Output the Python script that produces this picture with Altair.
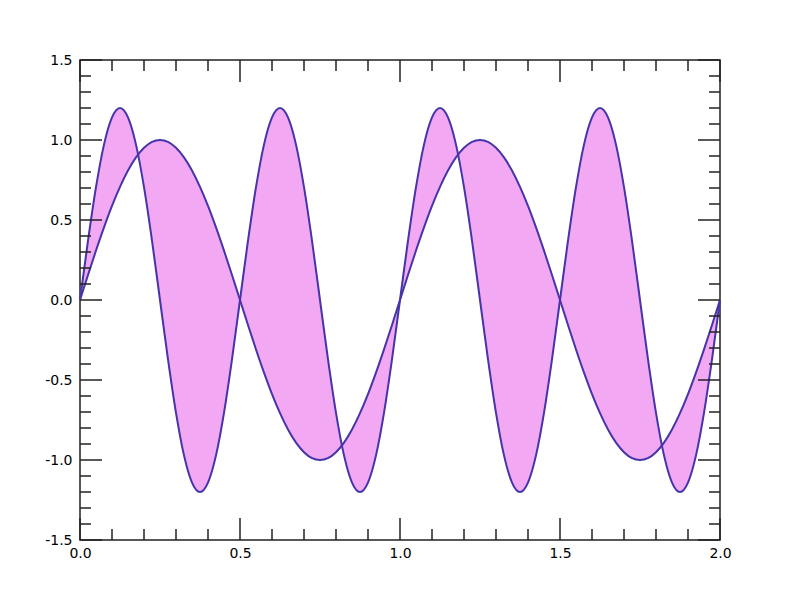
import altair as alt
import pandas as pd

# sampled x positions (step 0.025)
xs = [0.0, 0.025, 0.05, 0.075, 0.1, 0.125, 0.15, 0.175, 0.2, 0.225,
      0.25, 0.275, 0.3, 0.325, 0.35, 0.375, 0.4, 0.425, 0.45, 0.475,
      0.5, 0.525, 0.55, 0.575, 0.6, 0.625, 0.65, 0.675, 0.7, 0.725,
      0.75, 0.775, 0.8, 0.825, 0.85, 0.875, 0.9, 0.925, 0.95, 0.975,
      1.0, 1.025, 1.05, 1.075, 1.1, 1.125, 1.15, 1.175, 1.2, 1.225,
      1.25, 1.275, 1.3, 1.325, 1.35, 1.375, 1.4, 1.425, 1.45, 1.475,
      1.5, 1.525, 1.55, 1.575, 1.6, 1.625, 1.65, 1.675, 1.7, 1.725,
      1.75, 1.775, 1.8, 1.825, 1.85, 1.875, 1.9, 1.925, 1.95, 1.975, 2.0]

# slow curve values
y1 = [0.0, 0.156, 0.309, 0.454, 0.588, 0.707, 0.809, 0.891, 0.951, 0.988,
      1.0, 0.988, 0.951, 0.891, 0.809, 0.707, 0.588, 0.454, 0.309, 0.156,
      0.0, -0.156, -0.309, -0.454, -0.588, -0.707, -0.809, -0.891, -0.951, -0.988,
      -1.0, -0.988, -0.951, -0.891, -0.809, -0.707, -0.588, -0.454, -0.309, -0.156,
      0.0, 0.156, 0.309, 0.454, 0.588, 0.707, 0.809, 0.891, 0.951, 0.988,
      1.0, 0.988, 0.951, 0.891, 0.809, 0.707, 0.588, 0.454, 0.309, 0.156,
      0.0, -0.156, -0.309, -0.454, -0.588, -0.707, -0.809, -0.891, -0.951, -0.988,
      -1.0, -0.988, -0.951, -0.891, -0.809, -0.707, -0.588, -0.454, -0.309, -0.156, 0.0]

# fast curve values
y2 = [0.0, 0.371, 0.705, 0.971, 1.141, 1.2, 1.141, 0.971, 0.705, 0.371,
      0.0, -0.371, -0.705, -0.971, -1.141, -1.2, -1.141, -0.971, -0.705, -0.371,
      0.0, 0.371, 0.705, 0.971, 1.141, 1.2, 1.141, 0.971, 0.705, 0.371,
      0.0, -0.371, -0.705, -0.971, -1.141, -1.2, -1.141, -0.971, -0.705, -0.371,
      0.0, 0.371, 0.705, 0.971, 1.141, 1.2, 1.141, 0.971, 0.705, 0.371,
      0.0, -0.371, -0.705, -0.971, -1.141, -1.2, -1.141, -0.971, -0.705, -0.371,
      0.0, 0.371, 0.705, 0.971, 1.141, 1.2, 1.141, 0.971, 0.705, 0.371,
      0.0, -0.371, -0.705, -0.971, -1.141, -1.2, -1.141, -0.971, -0.705, -0.371, 0.0]

x_major = [0.0, 0.5, 1.0, 1.5, 2.0]
x_minor = [0.1, 0.2, 0.3, 0.4, 0.6, 0.7, 0.8, 0.9, 1.1, 1.2, 1.3, 1.4,
           1.6, 1.7, 1.8, 1.9]
y_major = [-1.5, -1.0, -0.5, 0.0, 0.5, 1.0, 1.5]
y_minor = [-1.4, -1.3, -1.2, -1.1, -0.9, -0.8, -0.7, -0.6, -0.4, -0.3, -0.2, -0.1,
           0.1, 0.2, 0.3, 0.4, 0.6, 0.7, 0.8, 0.9, 1.1, 1.2, 1.3, 1.4]

W, H = 640, 480
MAJ, MIN = 22, 11
FILL = "#f2a8f2"
LINE = "#4535a8"
TICK = "#222222"
FONT = "DejaVu Sans"

df = pd.DataFrame({"x": xs, "y1": y1, "y2": y2})

xscale = alt.Scale(domain=[0, 2], nice=False, zero=False)
yscale = alt.Scale(domain=[-1.5, 1.5], nice=False, zero=False)

neg_fmt = "datum.value < 0 ? '-' + format(-datum.value, '.1f') : format(datum.value, '.1f')"

xaxis = alt.Axis(values=x_major, labelExpr=neg_fmt, ticks=False, domain=False, grid=False,
                 labelPadding=6, labelFontSize=14, labelFont=FONT, labelColor="black",
                 labelFlush=False, labelOverlap=False, title=None)
yaxis = alt.Axis(values=y_major, labelExpr=neg_fmt, ticks=False, domain=False, grid=False,
                 labelPadding=8, labelFontSize=14, labelFont=FONT, labelColor="black",
                 labelOverlap=False, title=None)

base = alt.Chart(df)

area = base.mark_area(color=FILL, opacity=1, interpolate="monotone").encode(
    x=alt.X("x:Q", scale=xscale, axis=xaxis),
    y=alt.Y("y1:Q", scale=yscale, axis=yaxis),
    y2="y2:Q",
)
line1 = base.mark_line(color=LINE, strokeWidth=2, interpolate="monotone").encode(
    x=alt.X("x:Q", scale=xscale), y=alt.Y("y1:Q", scale=yscale))
line2 = base.mark_line(color=LINE, strokeWidth=2, interpolate="monotone").encode(
    x=alt.X("x:Q", scale=xscale), y=alt.Y("y2:Q", scale=yscale))

tick_style = dict(color=TICK, strokeWidth=1.5)


def xticks(length, vals, top):
    d = pd.DataFrame({"v": vals})
    if top:
        return alt.Chart(d).mark_rule(**tick_style).encode(
            x=alt.X("v:Q", scale=xscale), y=alt.value(0), y2=alt.value(length))
    return alt.Chart(d).mark_rule(**tick_style).encode(
        x=alt.X("v:Q", scale=xscale), y=alt.value(H), y2=alt.value(H - length))


def yticks(length, vals, right):
    d = pd.DataFrame({"v": vals})
    if right:
        return alt.Chart(d).mark_rule(**tick_style).encode(
            y=alt.Y("v:Q", scale=yscale), x=alt.value(W), x2=alt.value(W - length))
    return alt.Chart(d).mark_rule(**tick_style).encode(
        y=alt.Y("v:Q", scale=yscale), x=alt.value(0), x2=alt.value(length))


ticks = [
    xticks(MAJ, x_major, False), xticks(MIN, x_minor, False),
    xticks(MAJ, x_major, True), xticks(MIN, x_minor, True),
    yticks(MAJ, y_major, False), yticks(MIN, y_minor, False),
    yticks(MAJ, y_major, True), yticks(MIN, y_minor, True),
]

chart = alt.layer(area, line1, line2, *ticks).properties(
    width=W, height=H,
    autosize=alt.AutoSizeParams(type="none"),
    padding={"left": 72, "top": 52, "right": 72, "bottom": 52},
    background="white",
).configure_view(stroke=TICK, strokeWidth=1.5)

chart.save("out.html", embed_options={"renderer": "svg", "actions": False})
